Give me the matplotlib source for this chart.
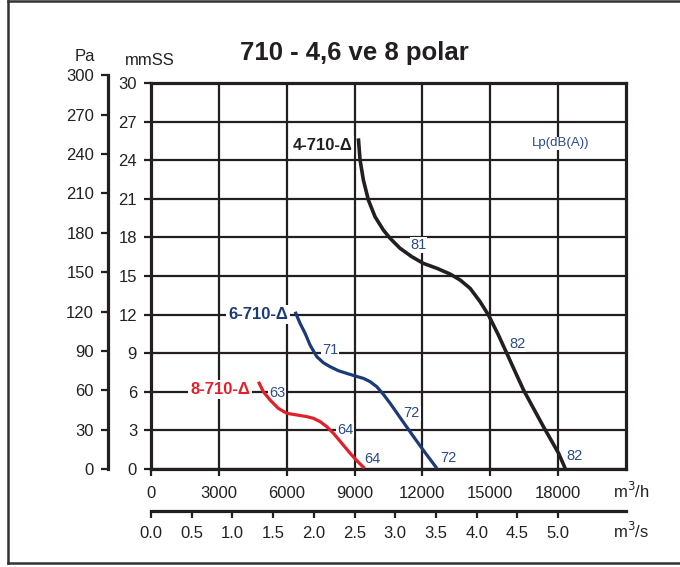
import matplotlib
matplotlib.use("Agg")
import matplotlib.pyplot as plt
from matplotlib.lines import Line2D
import numpy as np

plt.rcParams['font.family'] = ['Liberation Sans', 'DejaVu Sans']

# airflow (m3/h) and static pressure (mmSS)
q_4 = [9168, 9243, 9389, 9611, 9907, 10274, 10570, 11013, 11530, 12043, 12636, 13224, 13666,
       14109, 14551, 14918, 15360, 15730, 16099, 16470, 16908, 17350, 18020, 18311]
p_4 = [25.7, 24.01, 22.46, 20.9, 19.6, 18.57, 17.93, 17.15, 16.5, 15.98, 15.6, 15.15, 14.69,
       14.04, 13.0, 11.97, 10.41, 8.99, 7.56, 6.14, 4.72, 3.29, 1.22, 0.05]
q_6 = [6372, 6590, 6814, 7033, 7330, 7620, 7920, 8284, 8658, 9022, 9395, 9686, 9985, 10275,
       10575, 11088, 11608, 12119, 12640]
p_6 = [12.22, 11.32, 10.54, 9.63, 8.73, 8.26, 7.95, 7.64, 7.43, 7.23, 7.04, 6.79, 6.39, 5.8,
       5.10, 3.81, 2.51, 1.27, 0.05]
q_8 = [4750, 4967, 5265, 5630, 6003, 6444, 6888, 7178, 7478, 7771, 8068, 8434, 8805, 9098, 9440]
p_8 = [6.78, 6.01, 5.36, 4.71, 4.33, 4.2, 4.07, 3.94, 3.68, 3.29, 2.77, 2.0, 1.22, 0.65, 0.05]

curve_names = ['4-710-Δ', '6-710-Δ', '8-710-Δ']
curve_colors = ['#231f20', '#1c3a78', '#e2202b']

# noise levels Lp dB(A) along the curves
lp_text = ['81', '82', '82', '71', '72', '72', '63', '64', '64']
lp_q = [11832, 16201, 18708, 7917, 11531, 13149, 5586, 8580, 9806]
lp_p = [17.4, 9.71, 1.03, 9.25, 4.33, 0.83, 5.93, 3.03, 0.75]

pa_ticks = np.arange(0, 301, 30)
mmss_ticks = np.arange(0, 31, 3)
m3h_ticks = np.arange(0, 18001, 3000)
m3s_ticks = np.arange(0, 5.01, 0.5)

W, H = 680, 567
def fx(px):
    return px / W
def fy(py):
    return 1 - py / H

ink = '#231f20'
lbl_blue = '#2b4a8c'

fig = plt.figure(figsize=(6.8, 5.67), dpi=100)

x0, x1, y0, y1 = 151, 626, 469, 83
ax = fig.add_axes([fx(x0), fy(y0), fx(x1 - x0), (y0 - y1) / H])
ax.set_xlim(0, 21000)
ax.set_ylim(0, 30)
ax.set_xticks(m3h_ticks)
ax.set_yticks(mmss_ticks)
ax.set_xticklabels([str(v) for v in m3h_ticks])
ax.set_yticklabels([str(v) for v in mmss_ticks])
ax.set_axisbelow(True)
ax.grid(True, color=ink, lw=1.6)
for s in ax.spines.values():
    s.set_linewidth(2.3)
    s.set_color(ink)
ax.tick_params(direction='out', length=5, width=1.6, color=ink, labelsize=12, labelcolor='#222222')
ax.tick_params(axis='y', pad=5)
ax.tick_params(axis='x', pad=7)

for q, p, c, lw in zip([q_4, q_6, q_8], [p_4, p_6, p_8], curve_colors, [2.6, 2.3, 2.3]):
    ax.plot(q, p, color=c, lw=lw, solid_capstyle='butt', solid_joinstyle='round', zorder=5)

box = dict(facecolor='white', edgecolor='none', pad=1.5)
name_pos = [(8890, 25.17), (6059, 11.97), (4378, 6.2)]
for name, (q, p), c in zip(curve_names, name_pos, curve_colors):
    ax.text(q, p, name, ha='right', va='center', color=c, fontsize=12,
            fontweight='bold', bbox=box, zorder=4)

for t, q, p in zip(lp_text, lp_q, lp_p):
    ax.text(q, p, t, ha='center', va='center', color=lbl_blue, fontsize=10.5,
            bbox=dict(facecolor='white', edgecolor='none', pad=0.5), zorder=4)
ax.text(18090, 25.3, 'Lp(dB(A))', ha='center', va='center', color=lbl_blue, fontsize=9.5,
        bbox=dict(facecolor='white', edgecolor='none', pad=0.5), zorder=4)

# Pa axis (1 mmSS = 9.80665 Pa)
pa_h = 300 * (y0 - y1) / (30 * 9.80665)
axp = fig.add_axes([fx(108), fy(y0), 0.0001, pa_h / H])
axp.set_ylim(0, 300)
axp.set_yticks(pa_ticks)
axp.set_xticks([])
for k in ['top', 'right', 'bottom']:
    axp.spines[k].set_visible(False)
axp.spines['left'].set_linewidth(2.3)
axp.spines['left'].set_color(ink)
axp.patch.set_visible(False)
axp.tick_params(direction='out', length=5, width=1.6, color=ink, labelsize=12, labelcolor='#222222', pad=5)

# m3/s axis
axs = fig.add_axes([fx(x0), fy(511), fx(x1 - x0), 0.0001])
axs.set_xlim(0, 21000 / 3600)
axs.set_xticks(m3s_ticks)
axs.set_xticklabels(['%.1f' % v for v in m3s_ticks])
axs.set_yticks([])
for k in ['top', 'right', 'left']:
    axs.spines[k].set_visible(False)
axs.spines['bottom'].set_linewidth(2.3)
axs.spines['bottom'].set_color(ink)
axs.patch.set_visible(False)
axs.tick_params(direction='out', length=5, width=1.6, color=ink, labelsize=12, labelcolor='#222222', pad=6)

fig.text(fx(85), fy(57), 'Pa', ha='center', va='center', fontsize=12, color='#222222')
fig.text(fx(150), fy(61), 'mmSS', ha='center', va='center', fontsize=12, color='#222222')
fig.text(fx(613), fy(491), 'm$^3$/h', ha='left', va='center', fontsize=12, color='#222222')
fig.text(fx(613), fy(531), 'm$^3$/s', ha='left', va='center', fontsize=12, color='#222222')

fig.text(fx(354), fy(53), '710 - 4,6 ve 8 polar', ha='center', va='center', fontsize=18.5,
         fontweight='bold', color=ink)

# frame round the chart
for xs, ys in [([8, 8], [1, 563]), ([8, 680], [1, 1]), ([8, 680], [563, 563])]:
    fig.add_artist(Line2D([fx(v) for v in xs], [fy(v) for v in ys], color='#333333', lw=1.8))

fig.savefig('out.png', dpi=100)
